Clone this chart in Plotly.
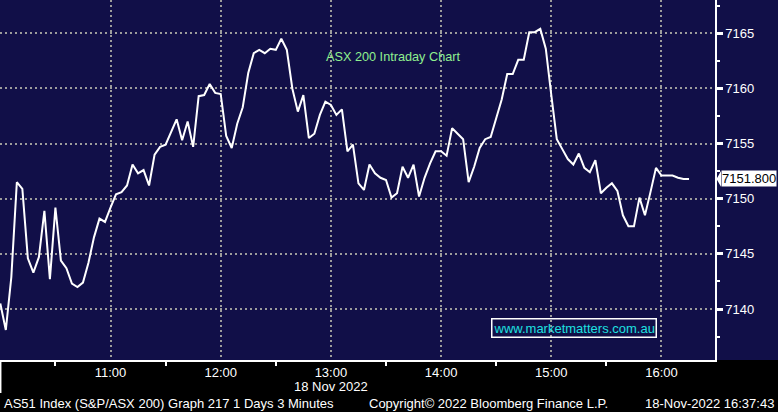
import pandas as pd
import plotly.graph_objects as go

# 3-minute bars, AS51 Index, 18 Nov 2022
start_time = "2022-11-18 10:00"
bar_minutes = 3
close = [
    7140.5, 7138.1, 7142.9, 7151.5, 7150.9, 7144.6, 7143.3, 7144.7, 7148.9, 7142.7,
    7149.2, 7144.4, 7143.7, 7142.3, 7142.0, 7142.4, 7144.2, 7146.5, 7148.2, 7147.9,
    7149.2, 7150.4, 7150.6, 7151.2, 7153.1, 7152.3, 7152.6, 7151.2, 7154.0, 7154.7,
    7154.9, 7156.1, 7157.2, 7155.3, 7157.0, 7154.7, 7159.3, 7159.4, 7160.4, 7159.6,
    7159.5, 7155.7, 7154.6, 7156.8, 7158.3, 7161.4, 7163.2, 7163.5, 7163.2, 7163.6,
    7163.5, 7164.5, 7163.5, 7160.0, 7157.9, 7159.4, 7155.5, 7155.9, 7157.6, 7158.8,
    7158.5, 7157.6, 7158.1, 7154.3, 7154.9, 7151.4, 7150.8, 7153.1, 7152.3, 7151.9,
    7151.7, 7150.1, 7150.5, 7152.9, 7151.9, 7153.1, 7150.2, 7151.9, 7153.2, 7154.3,
    7154.3, 7153.9, 7156.4, 7155.9, 7155.4, 7151.5, 7152.9, 7154.6, 7155.4, 7155.6,
    7157.4, 7159.0, 7161.3, 7161.3, 7162.6, 7162.6, 7165.1, 7165.1, 7165.4, 7163.6,
    7159.4, 7155.4, 7154.5, 7153.6, 7153.1, 7154.1, 7152.8, 7152.4, 7153.5, 7150.5,
    7151.0, 7151.4, 7150.7, 7148.5, 7147.5, 7147.5, 7150.1, 7148.5, 7150.6, 7152.8,
    7152.1, 7152.1, 7152.1, 7151.9, 7151.8, 7151.8,
]
times = pd.date_range(start_time, periods=len(close), freq=f"{bar_minutes}min")

y_ticks = [7140, 7145, 7150, 7155, 7160, 7165]
x_range = ["2022-11-18 09:59:50", "2022-11-18 16:29:08"]
y_range = [7135.38, 7168.02]

title_text = "ASX 200 Intraday Chart"
watermark = "www.marketmatters.com.au"
date_label = "18 Nov 2022"
footer_left = "AS51 Index (S&P/ASX 200) Graph 217 1 Days 3 Minutes"
footer_mid = "Copyright\u00a9 2022 Bloomberg Finance L.P."
footer_right = "18-Nov-2022 16:37:43"

NAVY = "#110f48"
GRID = "#9c9c9c"
FONT = "Liberation Sans, Arial, sans-serif"

fig = go.Figure()
fig.add_trace(go.Scatter(
    x=times, y=close, mode="lines",
    line=dict(color="white", width=2),
    hoverinfo="skip", showlegend=False,
))

W, H = 778, 412
L, R, T, B = 0, 63, 0, 52
pw, ph = W - L - R, H - T - B

fig.update_layout(
    width=W, height=H,
    margin=dict(l=L, r=R, t=T, b=B, pad=0, autoexpand=False),
    paper_bgcolor=NAVY, plot_bgcolor=NAVY,
    font=dict(family=FONT, color="white", size=13),
    showlegend=False,
    xaxis=dict(
        type="date", range=x_range,
        tick0="2022-11-18 10:00", dtick=3600000, tickformat="%H:%M",
        showgrid=True, gridcolor=GRID, gridwidth=2, griddash="2px,3px",
        ticks="",
        minor=dict(dtick=1800000, ticks="outside", ticklen=4,
                   tickcolor="white", tickwidth=1.5, showgrid=False),
        showline=True, linecolor="white", linewidth=1.5,
        tickfont=dict(size=13, color="white"),
        zeroline=False, fixedrange=True, automargin=False,
    ),
    yaxis=dict(
        side="right", range=y_range, tickvals=y_ticks,
        showgrid=True, gridcolor=GRID, gridwidth=2, griddash="2px,3px",
        ticks="outside", ticklen=6, tickwidth=2.5, tickcolor="white",
        minor=dict(dtick=2.5, tick0=7140, ticks="outside", ticklen=3,
                   tickcolor="white", tickwidth=1.5, showgrid=False),
        showline=True, linecolor="white", linewidth=1.5,
        tickfont=dict(size=13, color="white"),
        zeroline=False, fixedrange=True, automargin=False,
    ),
)

# black band beneath the plot for the time axis and footer
fig.add_shape(type="rect", xref="paper", yref="paper",
              x0=-0.05, x1=1.2, y0=-0.3, y1=0,
              fillcolor="black", line=dict(width=0), layer="below")
# date separator tick at the left edge
fig.add_shape(type="line", xref="paper", yref="paper",
              x0=0.7 / pw, x1=0.7 / pw, y0=0, y1=-33 / ph,
              line=dict(color="white", width=1.5))

# last price marker
last = close[-1]
fig.add_shape(type="path", xref="paper", yref="y",
              path=f"M {1 + 1.5/pw},{last} L {1 + 6/pw},{last + 0.72} "
                   f"L {1 + 6/pw},{last - 0.72} Z",
              fillcolor="white", line=dict(width=0))
fig.add_annotation(x=1 + 5.5 / pw, xref="paper", y=last, yref="y",
                   xanchor="left", yanchor="middle", showarrow=False,
                   text=f"{last:.3f}", bgcolor="white", borderpad=0,
                   font=dict(color="black", size=13, family=FONT))

# title inside the chart
fig.add_annotation(x=393 / pw, xref="paper", y=(ph - 57) / ph, yref="paper",
                   xanchor="center", yanchor="middle", showarrow=False,
                   text=title_text,
                   font=dict(color="#8ff08f", size=12.7, family=FONT))
# watermark box
fig.add_annotation(x=574 / pw, xref="paper", y=(ph - 328) / ph, yref="paper",
                   xanchor="center", yanchor="middle", showarrow=False,
                   text=watermark, bordercolor="white", borderwidth=1.5,
                   borderpad=1,
                   font=dict(color="#1ee0e0", size=13, family=FONT))

# date under the time axis
fig.add_annotation(x="2022-11-18 13:00", xref="x", y=-26 / ph, yref="paper",
                   xanchor="center", yanchor="middle", showarrow=False,
                   text=date_label, font=dict(color="white", size=13, family=FONT))

# footer
fy = -43 / ph
fig.add_annotation(x=2 / pw, xref="paper", y=fy, yref="paper",
                   xanchor="left", yanchor="middle", showarrow=False,
                   text=footer_left, font=dict(color="white", size=13, family=FONT))
fig.add_annotation(x=367 / pw, xref="paper", y=fy, yref="paper",
                   xanchor="left", yanchor="middle", showarrow=False,
                   text=footer_mid, font=dict(color="white", size=13, family=FONT))
fig.add_annotation(x=776 / pw, xref="paper", y=fy, yref="paper",
                   xanchor="right", yanchor="middle", showarrow=False,
                   text=footer_right, font=dict(color="white", size=13, family=FONT))

fig.write_html("out.html", config=dict(displayModeBar=False),
               post_script="document.body.style.margin='0';"
                           "document.body.style.overflow='hidden';")
